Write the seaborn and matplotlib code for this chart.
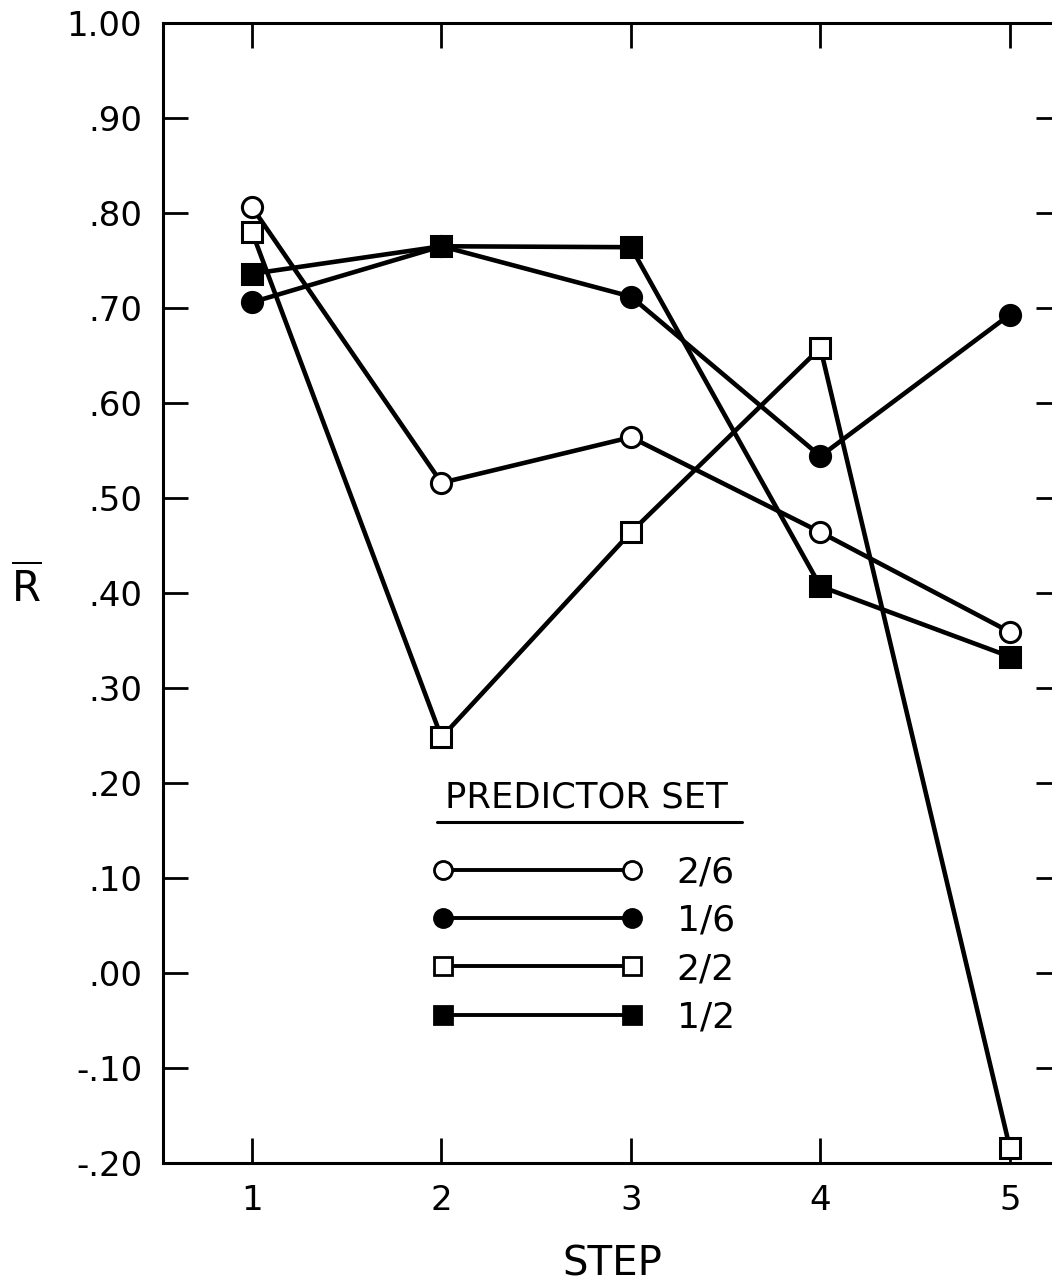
import matplotlib
matplotlib.use("Agg")
import matplotlib.pyplot as plt
import seaborn as sns
import pandas as pd
from matplotlib.lines import Line2D

# Mean multiple correlation by selection step for each predictor set
steps = [1, 2, 3, 4, 5]
r_2_6 = [0.806, 0.516, 0.564, 0.464, 0.359]
r_1_6 = [0.706, 0.765, 0.712, 0.544, 0.693]
r_2_2 = [0.780, 0.248, 0.464, 0.658, -0.184]
r_1_2 = [0.736, 0.765, 0.764, 0.407, 0.333]

set_labels = ["2/6", "1/6", "2/2", "1/2"]
set_values = [r_2_6, r_1_6, r_2_2, r_1_2]
set_markers = ["o", "o", "s", "s"]
set_faces = ["white", "black", "white", "black"]

y_ticks = [-0.2, -0.1, 0.0, 0.1, 0.2, 0.3, 0.4, 0.5, 0.6, 0.7, 0.8, 0.9, 1.0]
y_tick_labels = ["-.20", "-.10", ".00", ".10", ".20", ".30", ".40",
                 ".50", ".60", ".70", ".80", ".90", "1.00"]
x_tick_labels = ["1", "2", "3", "4", "5"]

sns.set_style("ticks")
plt.rcParams["font.family"] = ["DejaVu Sans"]
plt.rcParams["text.color"] = "black"
plt.rcParams["axes.labelcolor"] = "black"

frames = [pd.DataFrame({"step": steps, "R": vals, "set": lab})
          for lab, vals in zip(set_labels, set_values)]
df = pd.concat(frames, ignore_index=True)

W, H = 1052, 1285
fig = plt.figure(figsize=(W / 100, H / 100), dpi=100)
ax = fig.add_axes([163 / W, 122 / H, 898 / W, 1140 / H])

for lab, mk, fc in zip(set_labels, set_markers, set_faces):
    sub = df[df["set"] == lab]
    sns.lineplot(data=sub, x="step", y="R", ax=ax, color="black",
                 linewidth=3.3, marker=mk, markersize=14.5,
                 markerfacecolor=fc, markeredgecolor="black",
                 markeredgewidth=2.2, legend=False, zorder=3)

ax.set_xlim(0.53, 5.27)
ax.set_ylim(-0.2, 1.0)
ax.set_xticks(steps)
ax.set_xticklabels(x_tick_labels)
ax.set_yticks(y_ticks)
ax.set_yticklabels(y_tick_labels)
ax.tick_params(direction="in", length=18, width=2, top=True, right=True,
               labelsize=24.5, pad=15, colors="black", labelcolor="black")
for sp in ax.spines.values():
    sp.set_linewidth(2.2)
    sp.set_color("black")

ax.set_xlabel("STEP", fontsize=29, labelpad=20, color="black")
ax.set_ylabel(r"$\overline{\mathrm{R}}$", rotation=0, fontsize=30,
              va="center", ha="center", color="black")
ax.yaxis.set_label_coords(-0.152, 0.505)

# Legend block: underlined heading above the key
ax.text(0.314, 0.312, "PREDICTOR SET", transform=ax.transAxes,
        fontsize=25.5, va="baseline", ha="left", color="black")
ax.add_line(Line2D([0.305, 0.645], [0.299, 0.299], transform=ax.transAxes,
                   color="black", lw=2.2, clip_on=False))

handles = [Line2D([], [], color="black", lw=2.8, marker=mk, markersize=13,
                  markerfacecolor=fc, markeredgecolor="black",
                  markeredgewidth=2.0)
           for mk, fc in zip(set_markers, set_faces)]
leg = ax.legend(handles, set_labels, loc="upper left",
                bbox_to_anchor=(0.2996, 0.270), frameon=False, numpoints=2,
                handlelength=5.83, handletextpad=0.94, borderpad=0,
                borderaxespad=0, labelspacing=0.4, fontsize=26)
for t in leg.get_texts():
    t.set_color("black")

fig.savefig("out.png", dpi=100)
